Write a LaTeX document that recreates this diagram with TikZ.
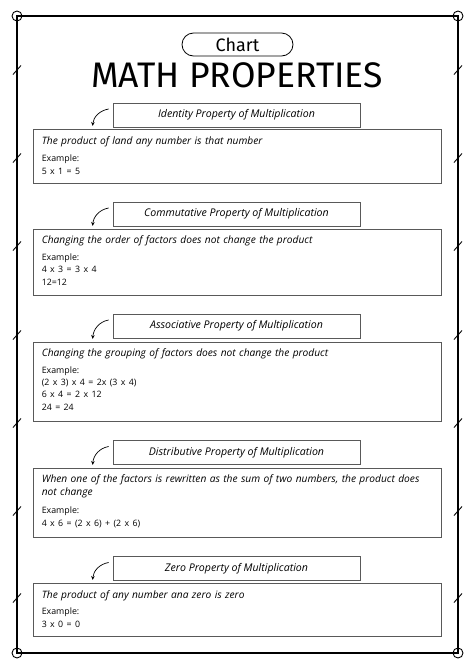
\documentclass[tikz,border=0pt]{standalone}
\usepackage{fontspec}
\setmainfont{Open Sans}
\newfontfamily\titlefont{Fira Sans}
\usetikzlibrary{arrows.meta}

\begin{document}
\begin{tikzpicture}[x=1pt, y=-1pt, >={Stealth[length=4pt,width=3.5pt]},
    headbox/.style={draw=black!65, line width=0.8pt, minimum width=247pt, minimum height=24pt, inner sep=0pt,
      font=\itshape\fontsize{10.6}{12}\selectfont, text=black},
    bodybox/.style={draw=black!65, line width=0.8pt, minimum width=408pt, anchor=north, inner sep=0pt},
    bodytext/.style={anchor=north west, align=left, text width=398pt, inner sep=0pt,
      font=\itshape\fontsize{10.2}{12.8}\selectfont, text=black}]

   \useasboundingbox (0,0) rectangle (474,670);

   % frame with corner rings and ticks
   \draw[line width=1.1pt] (17,16) rectangle (458,653);
   \foreach \x/\y in {17/16, 458/16, 17/653, 458/653}
     \draw[line width=0.9pt] (\x,\y) circle[radius=5pt];
   \foreach \y in {70, 158, 246, 335, 423, 511, 598}
     {\draw[line width=0.9pt] (13,\y+4.5) -- (21,\y-4.5);
      \draw[line width=0.9pt] (454,\y+4.5) -- (462,\y-4.5);}

   \node [draw, line width=0.8pt, rounded corners=11.5pt, minimum width=111pt, minimum height=23pt, inner sep=0pt,
      font=\titlefont\fontsize{18}{18}\selectfont]
      (chart) at (237.5,44.5) {Chart};
   \node [font=\titlefont\fontsize{35.5}{35.5}\selectfont]
      (title) at (237,75) {MATH PROPERTIES};

   \foreach [count=\n] \y/\t in {115/Identity, 214/Commutative, 326/Associative, 452.5/Distributive, 568.5/Zero}
     \node [headbox]
        (h\n) at (236.5,\y) {\t\ Property of Multiplication};

   \node [bodybox, minimum height=54pt] (b1) at (237,129) {};
   \node [bodybox, minimum height=66pt] (b2) at (237,229) {};
   \node [bodybox, minimum height=79pt] (b3) at (237,342) {};
   \node [bodybox, minimum height=69pt] (b4) at (237,468) {};
   \node [bodybox, minimum height=53pt] (b5) at (237,583) {};

   \node [bodytext] (t1) at ([xshift=9pt,yshift=-7.5pt]b1.north west)
     {The product of land any number is that number\\[4.5pt]
      \upshape\fontsize{8.8}{12.3}\selectfont Example:\\ 5 x 1 = 5};
   \node [bodytext] (t2) at ([xshift=9pt,yshift=-6.5pt]b2.north west)
     {Changing the order of factors does not change the product\\[4.5pt]
      \upshape\fontsize{8.8}{12.3}\selectfont Example:\\ 4 x 3 = 3 x 4\\ 12=12};
   \node [bodytext] (t3) at ([xshift=9pt,yshift=-6.5pt]b3.north west)
     {Changing the grouping of factors does not change the product\\[4.5pt]
      \upshape\fontsize{8.8}{12.3}\selectfont Example:\\ (2 x 3) x 4 = 2x (3 x 4)\\ 6 x 4 = 2 x 12\\ 24 = 24};
   \node [bodytext] (t4) at ([xshift=9pt,yshift=-6.5pt]b4.north west)
     {When one of the factors is rewritten as the sum of two numbers, the product does\\ not change\\[4.5pt]
      \upshape\fontsize{8.8}{13.5}\selectfont Example:\\ 4 x 6 = (2 x 6) + (2 x 6)};
   \node [bodytext] (t5) at ([xshift=9pt,yshift=-7pt]b5.north west)
     {The product of any number ana zero is zero\\[4.5pt]
      \upshape\fontsize{8.8}{12.3}\selectfont Example:\\ 3 x 0 = 0};

   \foreach \n in {1,...,5}
     \draw[->, line width=0.7pt] ([xshift=-4pt,yshift=6pt]h\n.west) to[out=190, in=85] ([xshift=60pt,yshift=3pt]b\n.north west);

\end{tikzpicture}
\end{document}
